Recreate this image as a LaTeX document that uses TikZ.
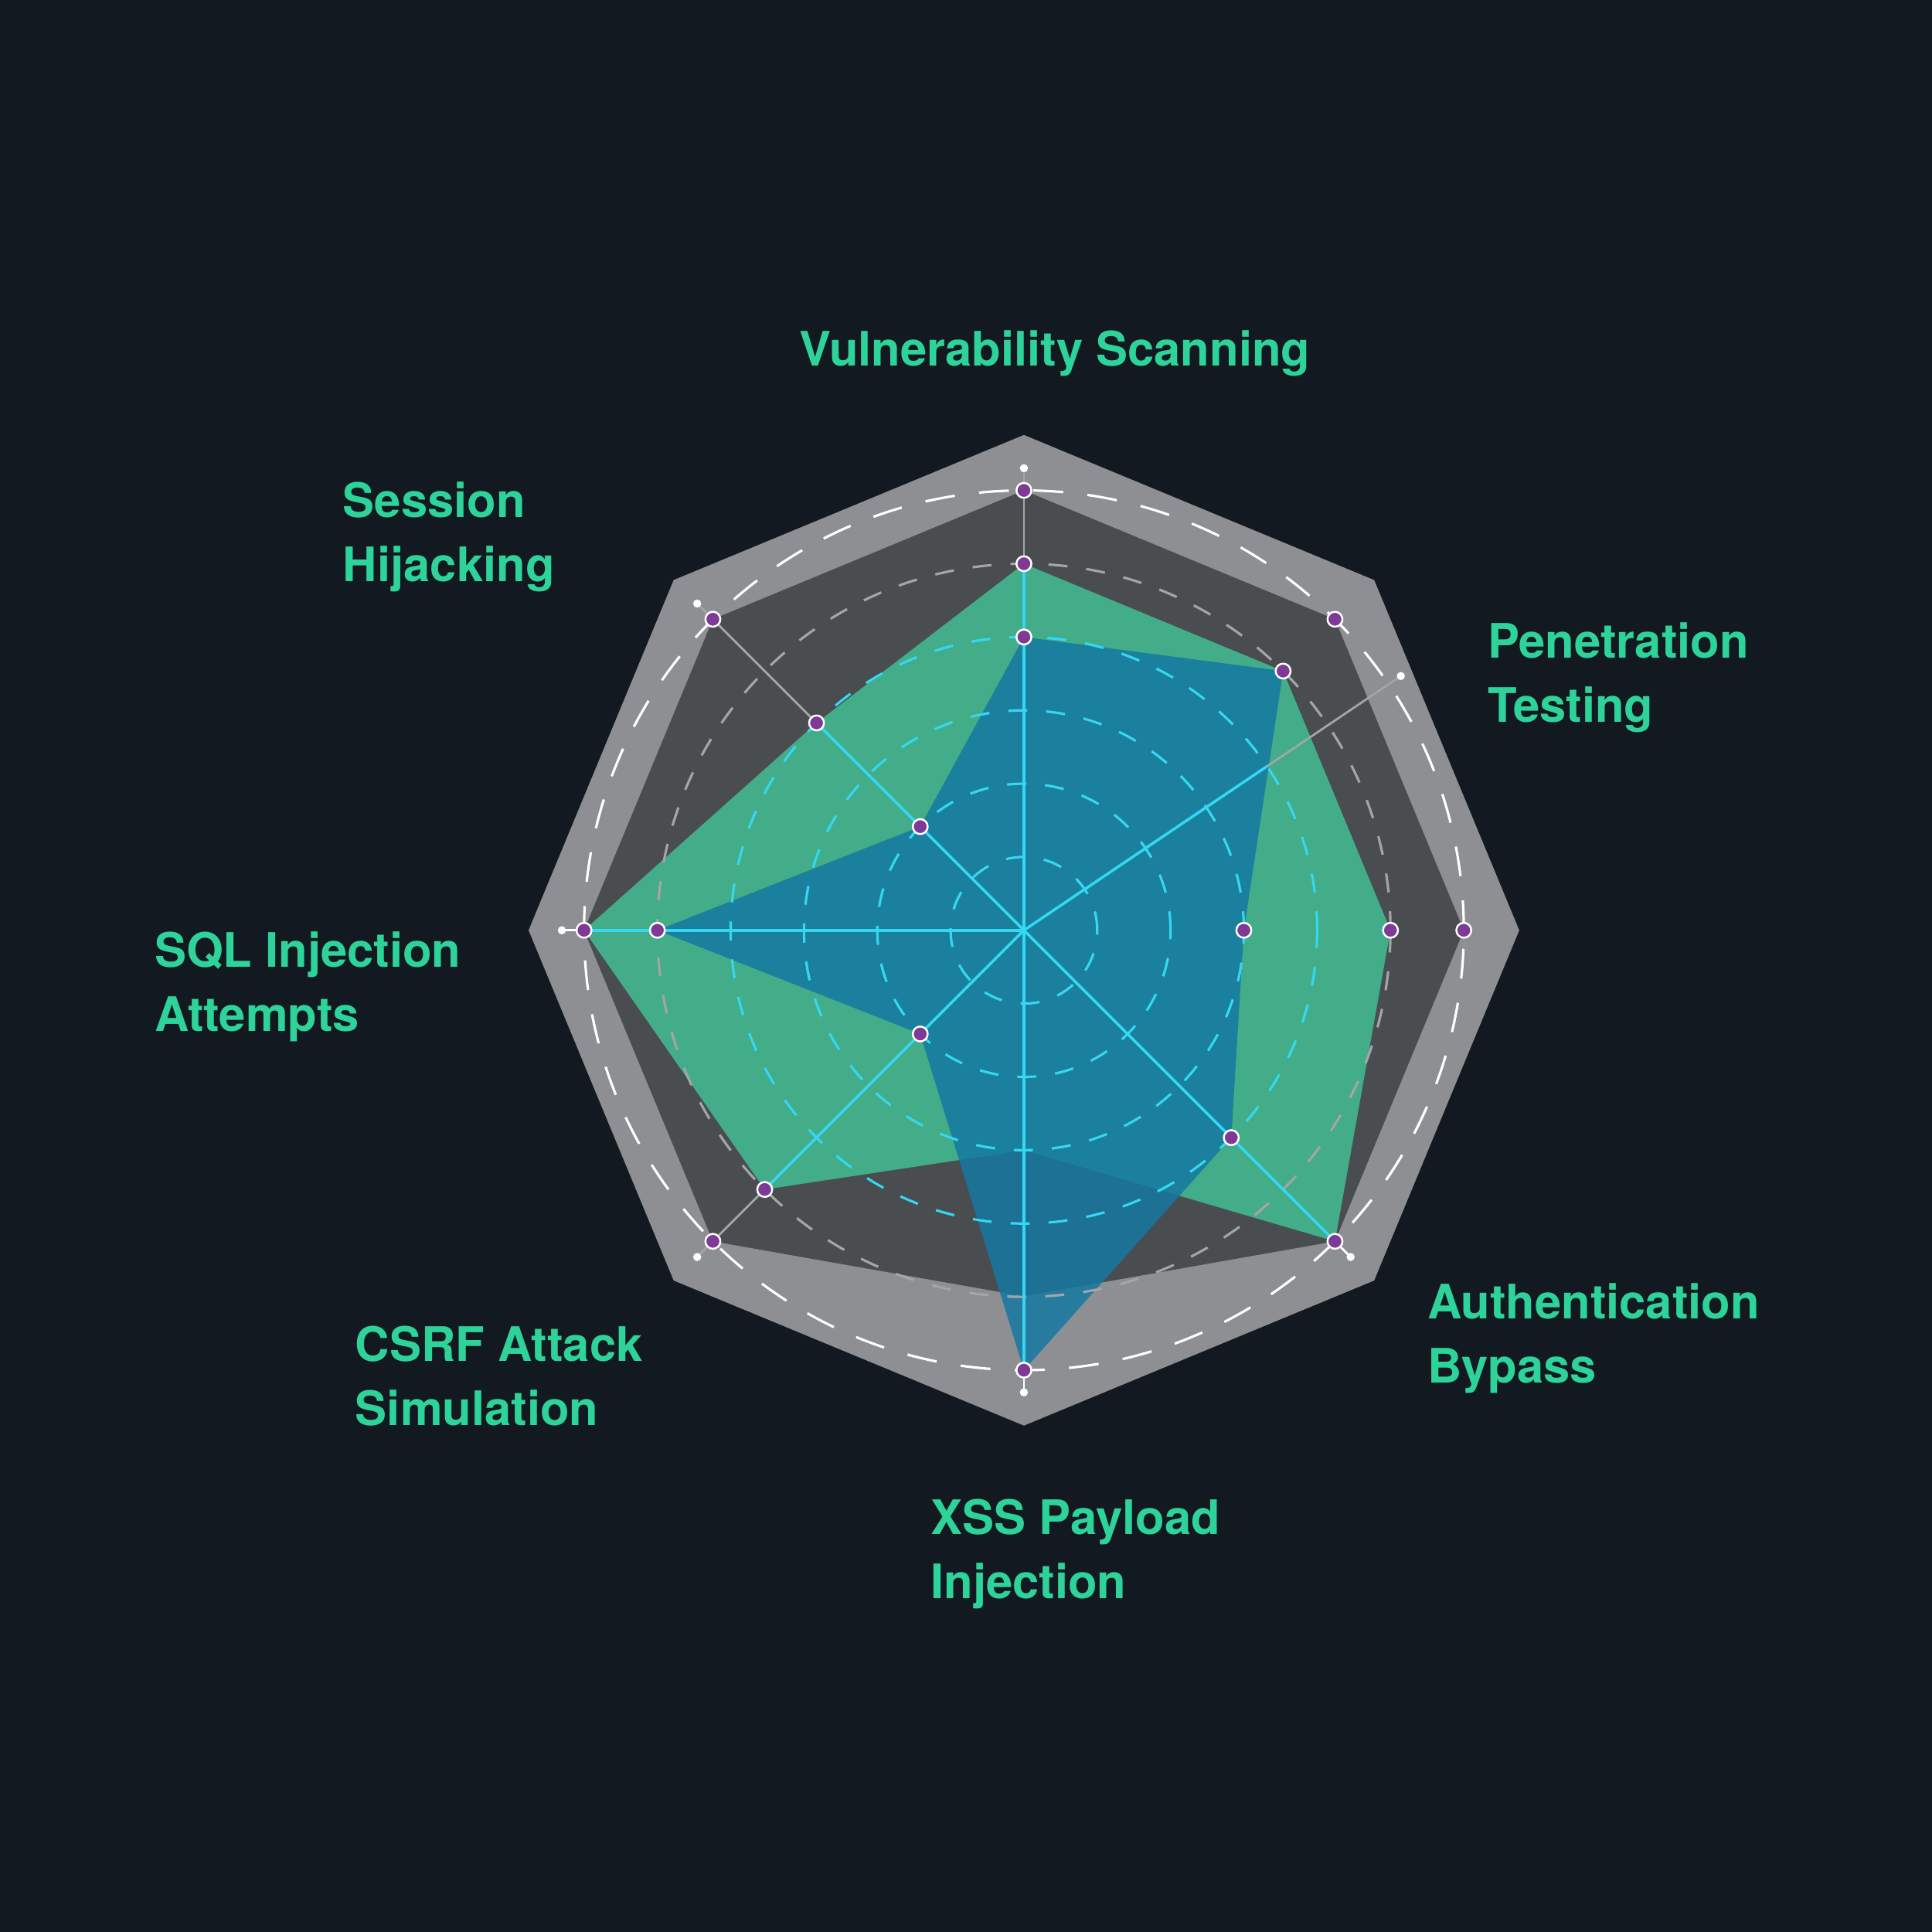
\documentclass[tikz,border=0pt]{standalone}
\usepackage{fontspec}
\setmainfont{TeX Gyre Heros}
\definecolor{bgdark}{HTML}{121920}
\definecolor{octlight}{HTML}{8D8F93}
\definecolor{octdark}{HTML}{4A4D50}
\definecolor{areagreen}{HTML}{43B58E}
\definecolor{areablue}{HTML}{1478A2}
\definecolor{spokecyan}{HTML}{35D8F2}
\definecolor{spokegray}{HTML}{A3A5A8}
\definecolor{labgreen}{HTML}{2ED39A}
\definecolor{dotpurple}{HTML}{7E3A96}
\begin{document}
\begin{tikzpicture}[x=0.01594cm,y=-0.01594cm,
  lbl/.style={text=labgreen,font=\bfseries\fontsize{17.5}{23.6}\selectfont,align=left,anchor=west,inner sep=0},
  dot/.style={circle,draw=white,fill=dotpurple,line width=0.7pt,minimum size=5.5pt,inner sep=0},
  tipdot/.style={circle,fill=white,minimum size=3pt,inner sep=0},
  ring/.style={dashed,dash pattern=on 7pt off 7pt,line width=0.9pt}]
\fill[bgdark] (0,0) rectangle (1568,1568);

% labels
\node[lbl,anchor=center] (vuln) at (856,287) {Vulnerability Scanning};
\node[lbl] (sess) at (278,436) {Session\\Hijacking};
\node[lbl] (pent) at (1207,550) {Penetration\\Testing};
\node[lbl] (sqli) at (125,801) {SQL Injection\\Attempts};
\node[lbl] (auth) at (1158,1086) {Authentication\\Bypass};
\node[lbl] (csrf) at (288,1117) {CSRF Attack\\Simulation};
\node[lbl] (xss) at (755,1261) {XSS Payload\\Injection};

\begin{scope}[shift={(831,755)},yscale=-1]
  \coordinate (c) at (0,0);
  % background octagons
  \fill[octlight] (0:402) \foreach \a in {45,90,...,315}{-- (\a:402)} -- cycle;
  \fill[octdark] (0:357) \foreach \a/\r in {45/357,90/357,135/357,180/357,225/357,270/297,315/357}{-- (\a:\r)} -- cycle;
  % data areas
  \fill[areagreen,opacity=0.92] (0:297.5) \foreach \a/\r in {45/5,90/5,135/4,180/6,225/5,270/3,315/6}{-- (\a:\r*59.5)} -- cycle;
  \fill[areablue,opacity=0.85] (0:178.5) \foreach \a/\r in {45/5,90/4,135/2,180/5,225/2,270/6,315/4}{-- (\a:\r*59.5)} -- cycle;
  % rings
  \foreach \r in {1,...,4}
    \draw[ring,spokecyan] (c) circle (\r*59.5);
  \draw[ring,spokegray] (c) circle (297.5);
  \draw[ring,white,dash pattern=on 11pt off 9pt] (c) circle (357);
  % spokes
  \foreach \a/\l/\t in {90/5/375,135/4/375,225/5/375,34/4/369}{
    \draw[spokegray,line width=0.8pt] (\a:\l*59.5) -- (\a:\t);
    \draw[spokecyan,line width=1pt] (c) -- (\a:\l*59.5);
    \node[tipdot] at (\a:\t) {};
  }
  \foreach \a in {180,270,315}{
    \draw[white,line width=0.8pt] (\a:357) -- (\a:375);
    \draw[spokecyan,line width=1pt] (c) -- (\a:357);
    \node[tipdot] at (\a:375) {};
  }
  % markers
  \foreach \a/\r [count=\i] in {90/6,90/5,90/4,45/6,45/5,0/3,0/5,0/6,315/4,315/6,270/6,225/2,225/5,225/6,180/6,180/5,135/6,135/4,135/2}
    \node[dot] (m\i) at (\a:\r*59.5) {};
\end{scope}
\end{tikzpicture}
\end{document}
